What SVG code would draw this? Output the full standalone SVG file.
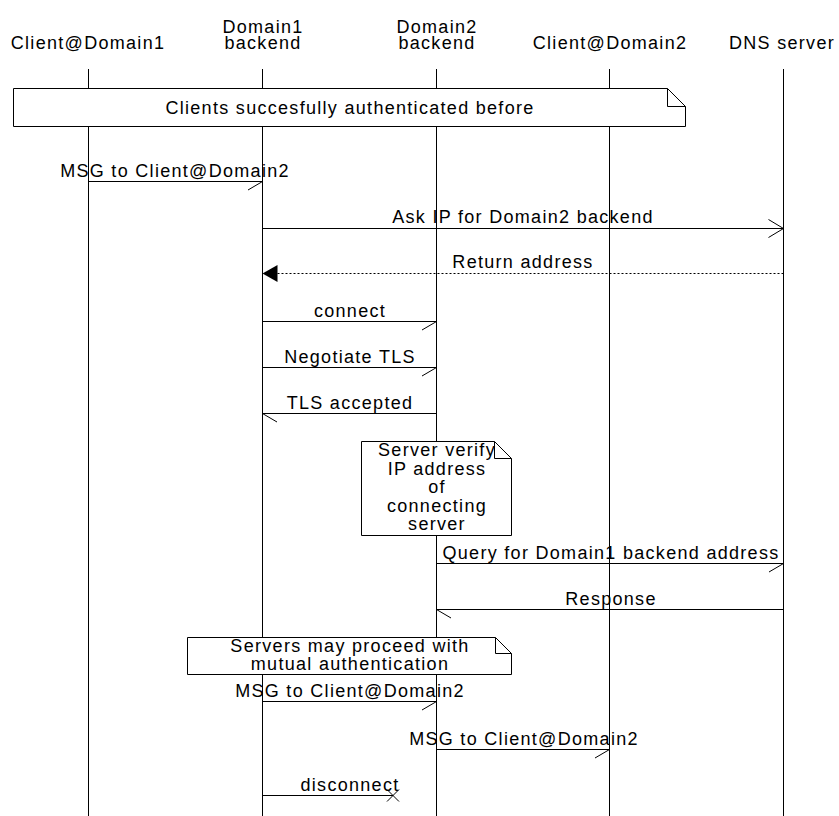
<svg xmlns="http://www.w3.org/2000/svg" width="839" height="816" viewBox="0 0 839 816">
<style>
text{font-family:"Liberation Sans",Arial,sans-serif;font-size:18px;letter-spacing:1.3px;fill:#000;text-anchor:middle}
.ll{stroke:#000;stroke-width:1;fill:none}
.msg{stroke:#000;stroke-width:1;fill:none}
.dot{stroke:#000;stroke-width:1;fill:none;stroke-dasharray:2 2}
.note{fill:#fff;stroke:#000;stroke-width:1}
.fold{fill:none;stroke:#000;stroke-width:1}
</style>
<rect width="839" height="816" fill="#fff"/>
<g id="entities">
<g id="client1"><text x="88" y="49">Client@Domain1</text><line class="ll" x1="88.5" y1="69" x2="88.5" y2="816"/></g>
<g id="backend1"><text x="263" y="33">Domain1</text><text x="263" y="49">backend</text><line class="ll" x1="262.5" y1="69" x2="262.5" y2="816"/></g>
<g id="backend2"><text x="437" y="33">Domain2</text><text x="437" y="49">backend</text><line class="ll" x1="436.5" y1="69" x2="436.5" y2="816"/></g>
<g id="client2"><text x="610" y="49">Client@Domain2</text><line class="ll" x1="609.5" y1="69" x2="609.5" y2="816"/></g>
<g id="dns"><text x="782" y="49">DNS server</text><line class="ll" x1="783.5" y1="69" x2="783.5" y2="816"/></g>
</g>
<g id="note1">
<path class="note" d="M13.5,88.5 H667.5 L685.5,106.5 V126.5 H13.5 Z"/>
<path class="fold" d="M667.5,88.5 V106.5 H685.5"/>
<text x="350" y="114">Clients succesfully authenticated before</text>
</g>
<g id="connectors">
<g id="m1"><line class="msg" x1="88.5" y1="181.5" x2="262.5" y2="181.5"/><path class="msg" d="M262.5,181.5 L248,190"/><text x="175" y="177">MSG to Client@Domain2</text></g>
<g id="m2"><line class="msg" x1="262.5" y1="228.5" x2="783.5" y2="228.5"/><path class="msg" d="M768.5,219.5 L783.5,228.5 L768.5,237.5"/><text x="523" y="223">Ask IP for Domain2 backend</text></g>
<g id="m3"><line class="dot" x1="783.5" y1="273.5" x2="276" y2="273.5"/><path d="M262.5,273.5 L277.5,265 L277.5,282 Z" fill="#000"/><text x="523" y="268">Return address</text></g>
<g id="m4"><line class="msg" x1="262.5" y1="321.5" x2="436.5" y2="321.5"/><path class="msg" d="M436.5,321.5 L422,330"/><text x="350" y="316.5">connect</text></g>
<g id="m5"><line class="msg" x1="262.5" y1="367.5" x2="436.5" y2="367.5"/><path class="msg" d="M436.5,367.5 L422,376"/><text x="350" y="362.5">Negotiate TLS</text></g>
<g id="m6"><line class="msg" x1="436.5" y1="413.5" x2="262.5" y2="413.5"/><path class="msg" d="M262.5,413.5 L277,422"/><text x="350" y="409">TLS accepted</text></g>
<g id="m7"><line class="msg" x1="436.5" y1="563.5" x2="783.5" y2="563.5"/><path class="msg" d="M783.5,563.5 L769,572"/><text x="611" y="558.5">Query for Domain1 backend address</text></g>
<g id="m8"><line class="msg" x1="783.5" y1="609.5" x2="436.5" y2="609.5"/><path class="msg" d="M436.5,609.5 L451,618"/><text x="611" y="605">Response</text></g>
<g id="m9"><line class="msg" x1="262.5" y1="701.5" x2="436.5" y2="701.5"/><path class="msg" d="M436.5,701.5 L422,710"/><text x="350" y="697">MSG to Client@Domain2</text></g>
<g id="m10"><line class="msg" x1="436.5" y1="749.5" x2="609.5" y2="749.5"/><path class="msg" d="M609.5,749.5 L595,758"/><text x="524" y="744.5">MSG to Client@Domain2</text></g>
<g id="m11"><line class="msg" x1="262.5" y1="795.5" x2="393" y2="795.5"/><path class="msg" d="M387,789.5 L399,801.5 M387,801.5 L399,789.5"/><text x="350" y="791">disconnect</text></g>
</g>
<g id="note2">
<path class="note" d="M361.5,441.5 H494.5 L511.5,458.5 V535.5 H361.5 Z"/>
<path class="fold" d="M494.5,441.5 V458.5 H511.5"/>
<text x="437" y="456">Server verify</text>
<text x="437" y="474.5">IP address</text>
<text x="437" y="493">of</text>
<text x="437" y="511.5">connecting</text>
<text x="437" y="530">server</text>
</g>
<g id="note3">
<path class="note" d="M187.5,637.5 H495.5 L511.5,653.5 V674.5 H187.5 Z"/>
<path class="fold" d="M495.5,637.5 V653.5 H511.5"/>
<text x="350" y="651.5">Servers may proceed with</text>
<text x="350" y="669.5">mutual authentication</text>
</g>
</svg>
